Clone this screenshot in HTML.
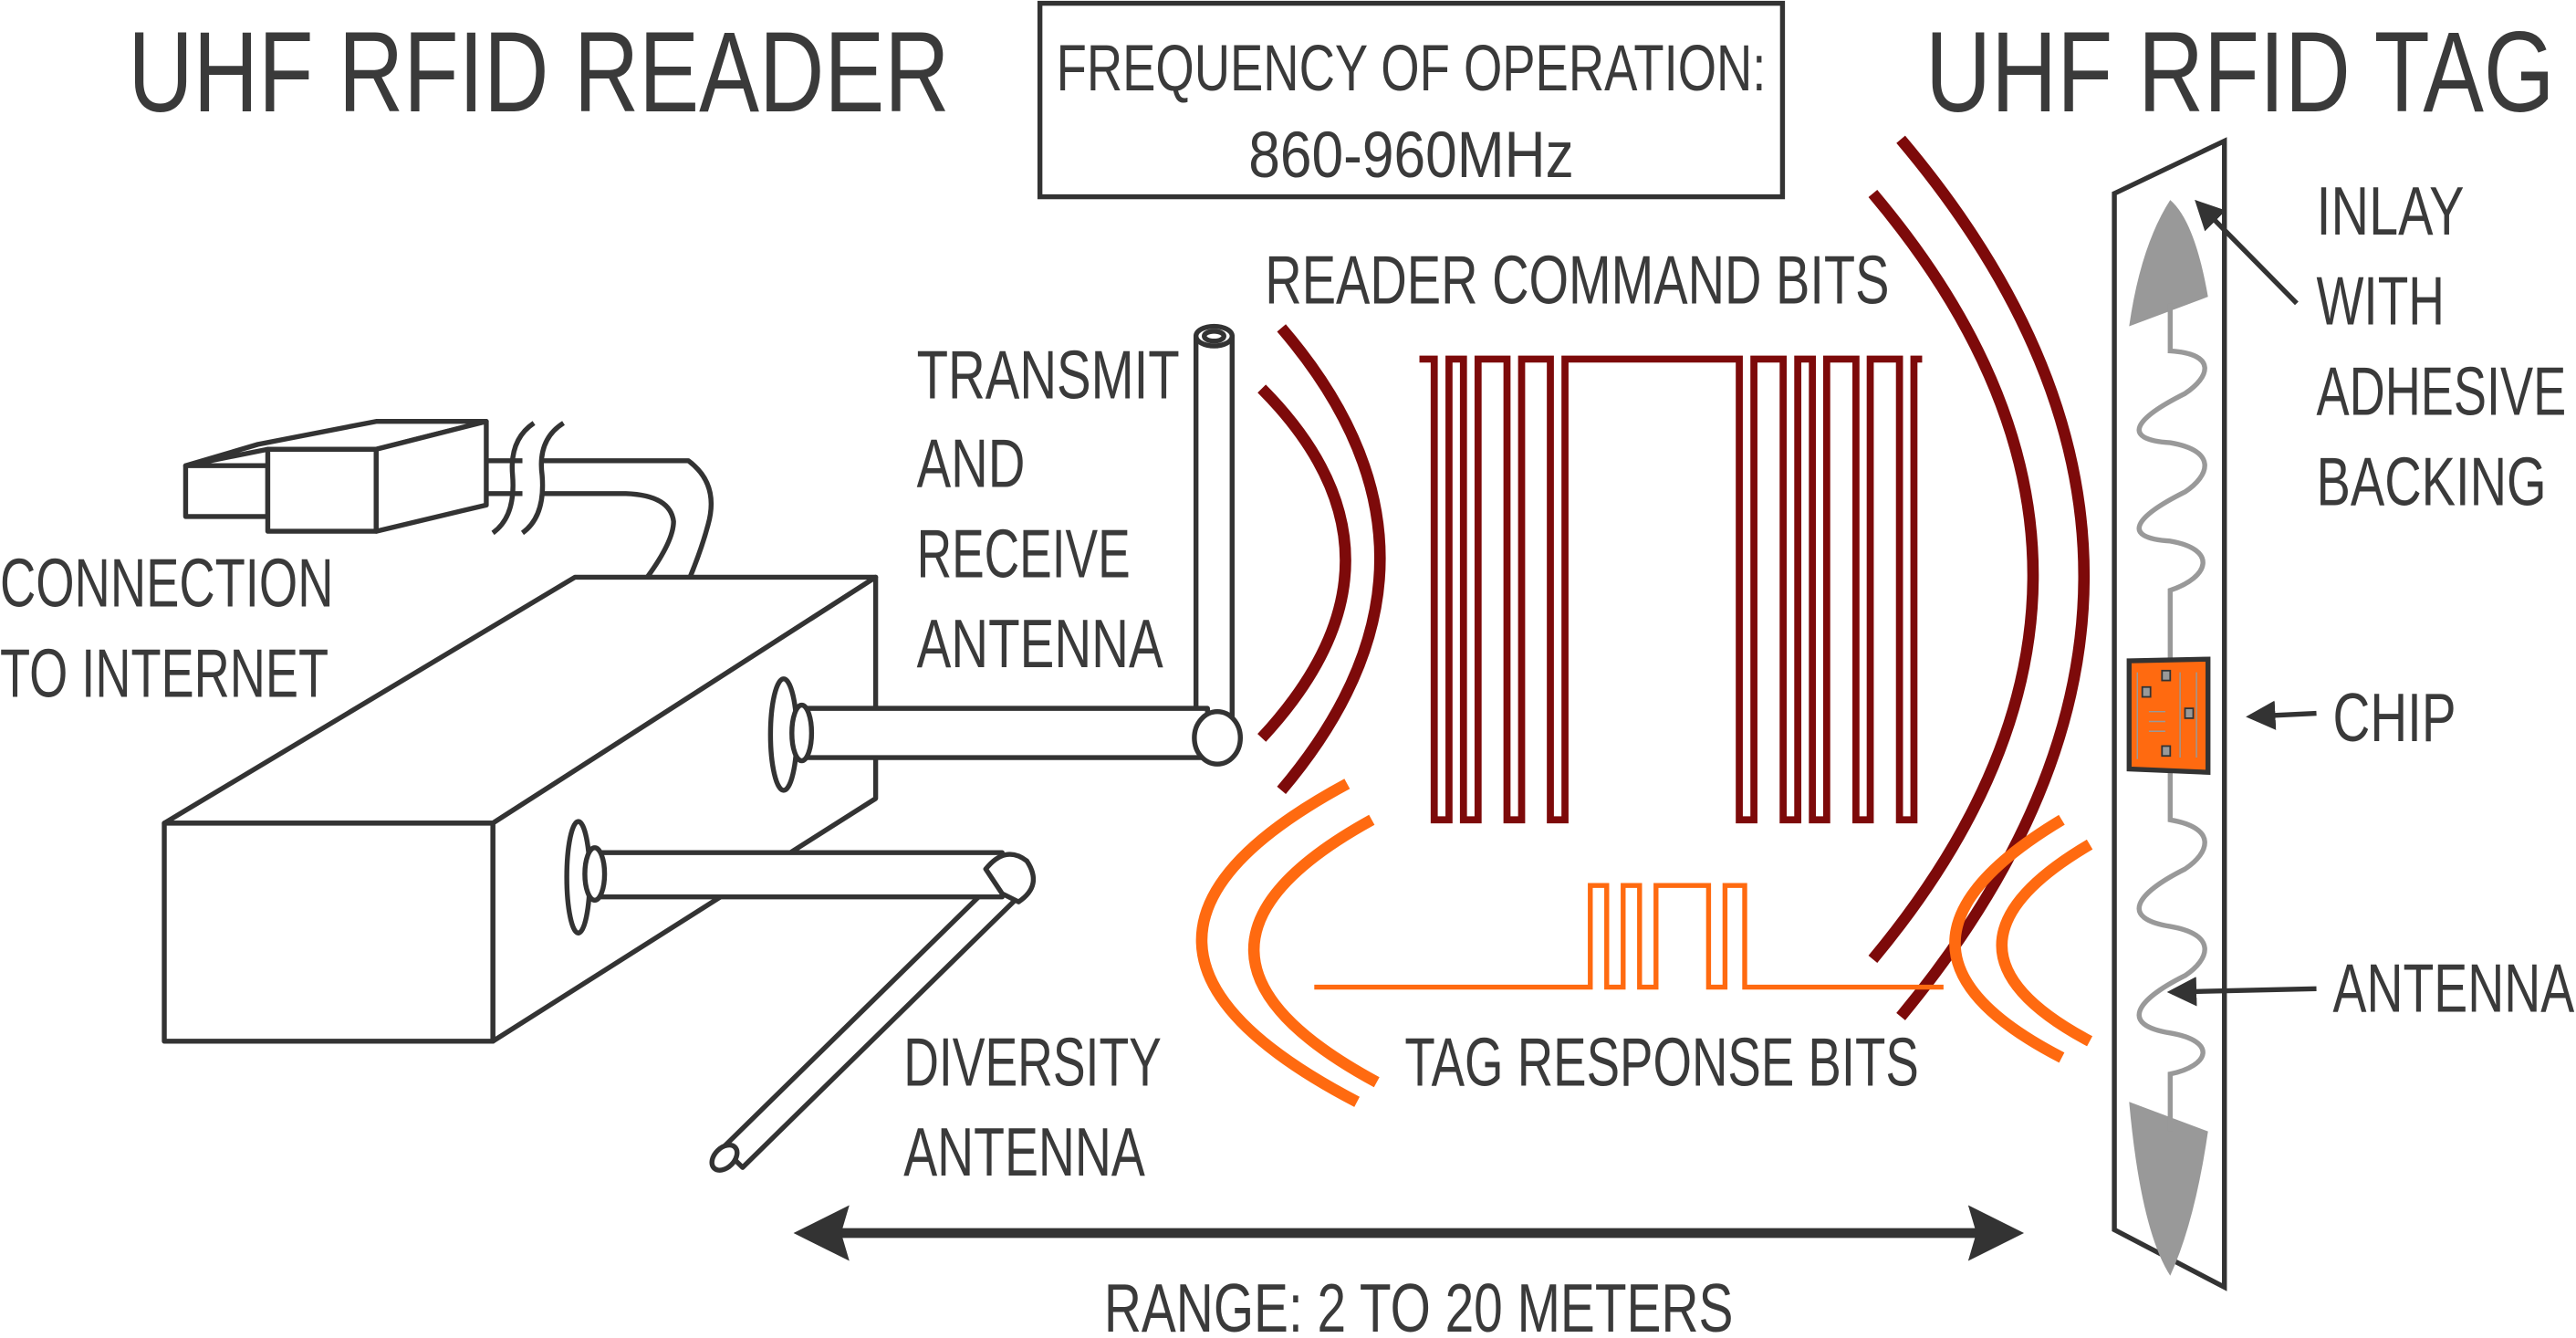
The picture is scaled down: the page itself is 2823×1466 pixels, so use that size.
<!DOCTYPE html>
<html><head><meta charset="utf-8"><style>
html,body{margin:0;padding:0;background:#fff;width:2823px;height:1466px;overflow:hidden}
svg{display:block}
text{font-family:"Liberation Sans Narrow","Liberation Sans",sans-serif;fill:#3a3a3a}
</style></head><body>
<svg width="2823" height="1466" viewBox="0 0 1568 816" preserveAspectRatio="none">
<defs>
<marker id="ah" markerWidth="6" markerHeight="6" refX="5" refY="3" orient="auto" markerUnits="strokeWidth"><path d="M0,0 L6,3 L0,6 Z" fill="#333"/></marker>
</defs>
<!-- titles -->
<text x="78" y="68" font-size="70" textLength="500" lengthAdjust="spacingAndGlyphs">UHF RFID READER</text>
<text x="1172" y="68" font-size="70" textLength="383" lengthAdjust="spacingAndGlyphs">UHF RFID TAG</text>
<rect x="633" y="2" width="452" height="118" fill="none" stroke="#333" stroke-width="3"/>
<text x="643" y="55" font-size="40" textLength="432" lengthAdjust="spacingAndGlyphs">FREQUENCY OF OPERATION:</text>
<text x="760" y="108" font-size="40" textLength="198" lengthAdjust="spacingAndGlyphs">860-960MHz</text>
<text x="770" y="185" font-size="42" textLength="380" lengthAdjust="spacingAndGlyphs">READER COMMAND BITS</text>
<g font-size="42">
<text x="558" y="243" textLength="160" lengthAdjust="spacingAndGlyphs">TRANSMIT</text>
<text x="558" y="297" textLength="66" lengthAdjust="spacingAndGlyphs">AND</text>
<text x="558" y="352" textLength="130" lengthAdjust="spacingAndGlyphs">RECEIVE</text>
<text x="558" y="407" textLength="150" lengthAdjust="spacingAndGlyphs">ANTENNA</text>
<text x="0" y="370" textLength="203" lengthAdjust="spacingAndGlyphs">CONNECTION</text>
<text x="0" y="425" textLength="200" lengthAdjust="spacingAndGlyphs">TO INTERNET</text>
<text x="550" y="662" textLength="157" lengthAdjust="spacingAndGlyphs">DIVERSITY</text>
<text x="550" y="717" textLength="147" lengthAdjust="spacingAndGlyphs">ANTENNA</text>
<text x="855" y="662" textLength="313" lengthAdjust="spacingAndGlyphs">TAG RESPONSE BITS</text>
<text x="672" y="812" textLength="383" lengthAdjust="spacingAndGlyphs">RANGE: 2 TO 20 METERS</text>
<text x="1410" y="143" textLength="90" lengthAdjust="spacingAndGlyphs">INLAY</text>
<text x="1410" y="198" textLength="78" lengthAdjust="spacingAndGlyphs">WITH</text>
<text x="1410" y="253" textLength="152" lengthAdjust="spacingAndGlyphs">ADHESIVE</text>
<text x="1410" y="308" textLength="140" lengthAdjust="spacingAndGlyphs">BACKING</text>
<text x="1420" y="452" textLength="75" lengthAdjust="spacingAndGlyphs">CHIP</text>
<text x="1420" y="617" textLength="147" lengthAdjust="spacingAndGlyphs">ANTENNA</text>
</g>
<!-- reader box -->
<g fill="#fff" stroke="#333" stroke-width="3" stroke-linejoin="round">
<!-- cable -->
<path d="M268,281 L419,281 Q438,295 431,320 Q427,335 420,352" fill="none"/>
<path d="M268,301 L381,301 Q408,302 410,318 Q410,330 394,352" fill="none"/>
<path d="M268,281 Q258,291 268,301" fill="none"/>
<rect x="318" y="279" width="12" height="25" fill="#fff" stroke="none"/>
<path d="M325,258 Q310,268 312,290 Q314,315 300,325 M343,258 Q327,268 330,290 Q332,315 318,325" fill="none"/>
<!-- plug -->
<path d="M113,284 L157,271 L229,257 L296,257 L229,274 L163,274 Z"/>
<rect x="113" y="284" width="50" height="31"/>
<rect x="163" y="274" width="66" height="50"/>
<path d="M229,274 L296,257 L296,308 L229,324 Z"/>
<!-- box -->
<path d="M100,502 L350,352 L533,352 L300,502 Z"/>
<path d="M300,502 L533,352 L533,487 L300,635 Z"/>
<rect x="100" y="502" width="200" height="133"/>
<!-- diversity antenna -->
<path d="M615,528 L440,700 L452,712 L627,540 Z"/>
<ellipse cx="441" cy="706" rx="6" ry="9" transform="rotate(45 441 706)"/>
<rect x="360" y="520" width="250" height="27"/>
<ellipse cx="352" cy="535" rx="7" ry="34"/>
<ellipse cx="362" cy="533" rx="6" ry="16"/>
<path d="M600,530 Q612,515 625,525 Q635,540 620,550 L610,545 Z"/>
<!-- transmit antenna -->
<rect x="728" y="205" width="22" height="235"/>
<ellipse cx="739" cy="205" rx="11" ry="6"/>
<ellipse cx="739" cy="205" rx="6" ry="3"/>
<rect x="485" y="432" width="250" height="30"/>
<ellipse cx="477" cy="448" rx="8" ry="34"/>
<ellipse cx="488" cy="447" rx="6" ry="17"/>
<ellipse cx="741" cy="450" rx="14" ry="16"/>
</g>
<!-- dark red -->
<g fill="none" stroke="#7d0a0a" stroke-width="7">
<path d="M780,200 Q900,340 780,482"/>
<path d="M768,237 Q870,340 768,450"/>
<path d="M1140,118 Q1335,350 1140,585"/>
<path d="M1157,85 Q1380,350 1157,620"/>
</g>
<path d="M864,219 H873 V500 H882 V219 H890.8 V500 H899.7 V219 H917.3 V500 H926.2 V219 H943.7 V500 H952.6 V219 H1058.7 V500 H1067.6 V219 H1085.4 V500 H1094.3 V219 H1103.2 V500 H1111.9 V219 H1129.7 V500 H1138.4 V219 H1156.2 V500 H1165 V219 H1170" fill="none" stroke="#7d0a0a" stroke-width="4.3" stroke-linejoin="miter"/>
<!-- orange -->
<g fill="none" stroke="#ff6a10" stroke-width="7">
<path d="M820,478 Q640,575 826,672"/>
<path d="M835,500 Q690,580 838,660"/>
<path d="M1255,500 Q1125,578 1255,645"/>
<path d="M1272,515 Q1165,578 1272,635"/>
</g>
<path d="M800,602 L968,602 L968,540 L978,540 L978,602 L988,602 L988,540 L998,540 L998,602 L1008,602 L1008,540 L1040,540 L1040,602 L1050,602 L1050,540 L1062,540 L1062,602 L1183,602" fill="none" stroke="#ff6a10" stroke-width="3"/>
<!-- tag -->
<path d="M1287,118 L1354,86 L1354,785 L1287,750 Z" fill="#fff" stroke="#333" stroke-width="3"/>
<path d="M1321,122 Q1303,150 1296,199 L1344,181 Q1336,135 1321,122 Z" fill="#999"/>
<path d="M1321,778 Q1303,750 1296,672 L1344,690 Q1336,745 1321,778 Z" fill="#999"/>
<path d="M1321,185 L1321,214 C1350,216 1345,230 1330,240 C1300,255 1290,268 1321,270 C1350,275 1345,290 1330,300 C1300,315 1290,328 1321,330 C1350,335 1345,352 1321,360 L1321,403
M1321,470 L1321,500 C1350,505 1345,520 1330,530 C1300,545 1290,560 1321,565 C1350,570 1345,585 1330,595 C1300,610 1290,625 1321,630 C1350,635 1345,650 1321,655 L1321,690" fill="none" stroke="#999" stroke-width="3"/>
<path d="M1296,403 L1344,402 L1344,471 L1296,469 Z" fill="#ff6a10" stroke="#333" stroke-width="3"/>
<g fill="#999" stroke="#333" stroke-width="1"><rect x="1316" y="409" width="5" height="6"/><rect x="1304" y="419" width="5" height="6"/><rect x="1330" y="432" width="5" height="6"/><rect x="1316" y="455" width="5" height="6"/></g>
<g stroke="#999" stroke-width="0.8"><line x1="1301" y1="410" x2="1301" y2="463"/><line x1="1327" y1="410" x2="1327" y2="462"/><line x1="1337" y1="410" x2="1337" y2="462"/><line x1="1308" y1="434" x2="1318" y2="434"/><line x1="1308" y1="440" x2="1318" y2="440"/><line x1="1308" y1="446" x2="1318" y2="446"/></g>
<!-- arrows -->
<g stroke="#333" stroke-width="3" fill="none">
<line x1="1398" y1="185" x2="1338" y2="124" marker-end="url(#ah)"/>
<line x1="1410" y1="435" x2="1370" y2="437" marker-end="url(#ah)"/>
<line x1="1410" y1="603" x2="1322" y2="605" marker-end="url(#ah)"/>
<line x1="510" y1="752" x2="1205" y2="752" stroke-width="6"/>
</g>
<path d="M483,752 L517,735 L512,752 L517,769 Z M1232,752 L1198,735 L1203,752 L1198,769 Z" fill="#333"/>
</svg>
</body></html>
